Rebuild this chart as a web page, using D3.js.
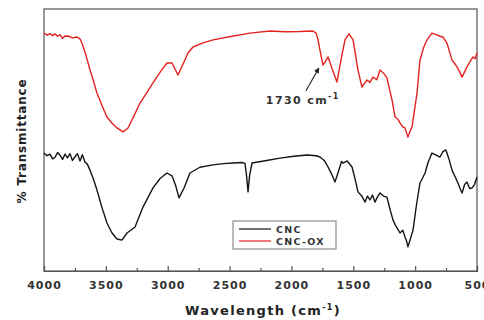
<!DOCTYPE html>
<html>
<head>
<meta charset="utf-8">
<script src="https://cdn.jsdelivr.net/npm/d3@7"></script>
<style>
  html, body { margin: 0; padding: 0; background: #fff; }
  svg { display: block; font-family: "DejaVu Sans", "Liberation Sans", Arial, sans-serif; }
</style>
</head>
<body>
<svg id="chart" width="484" height="320"></svg>
<script>
// FTIR spectra: wavenumber (cm-1) and relative transmittance
const cncWavenumber = [4000, 3975, 3952, 3930, 3911, 3890, 3871, 3850, 3830, 3810, 3790, 3770, 3749, 3730, 3709, 3690, 3669, 3650, 3628, 3600, 3572, 3530, 3491, 3450, 3410, 3370, 3329, 3264, 3200, 3119, 3060, 3006, 2965, 2935, 2909, 2868, 2820, 2740, 2634, 2550, 2472, 2400, 2375, 2362, 2351, 2338, 2319, 2200, 2092, 1980, 1874, 1800, 1769, 1735, 1704, 1675, 1648, 1620, 1595, 1583, 1550, 1510, 1485, 1462, 1430, 1405, 1385, 1365, 1345, 1325, 1305, 1284, 1255, 1228, 1200, 1179, 1160, 1140, 1122, 1100, 1082, 1070, 1058, 1040, 1017, 990, 961, 940, 920, 895, 864, 830, 799, 775, 751, 725, 702, 675, 654, 635, 621, 600, 581, 560, 540, 520, 500];
const cncValues = [45.0, 44.0, 44.6, 42.8, 43.4, 45.2, 44.2, 42.6, 44.6, 43.2, 44.8, 42.2, 43.6, 44.8, 42.0, 44.4, 41.6, 40.8, 38.5, 35.0, 30.9, 24.0, 18.3, 14.5, 12.2, 11.8, 14.5, 16.8, 24.4, 31.7, 35.4, 37.4, 36.3, 32.5, 27.9, 31.7, 37.4, 39.6, 40.5, 41.0, 41.2, 41.4, 41.0, 36.0, 30.2, 36.5, 41.2, 42.2, 43.1, 43.8, 44.3, 44.0, 43.5, 42.2, 39.7, 37.0, 34.0, 38.0, 41.8, 41.2, 42.0, 39.7, 35.0, 30.2, 28.5, 26.3, 28.6, 27.1, 29.0, 26.3, 28.2, 29.8, 28.6, 28.2, 23.0, 19.5, 17.5, 16.0, 14.5, 15.6, 13.0, 11.5, 9.2, 12.0, 15.6, 25.0, 33.6, 35.5, 37.4, 41.5, 45.0, 44.2, 43.5, 45.6, 46.2, 42.5, 38.5, 35.8, 33.6, 31.2, 29.8, 33.0, 34.0, 31.5, 31.7, 33.0, 35.9];

const oxWavenumber = [4000, 3975, 3952, 3930, 3911, 3890, 3870, 3850, 3830, 3800, 3770, 3733, 3710, 3693, 3661, 3628, 3600, 3572, 3530, 3491, 3450, 3410, 3361, 3321, 3270, 3224, 3170, 3119, 3060, 3006, 2965, 2940, 2917, 2876, 2836, 2796, 2720, 2634, 2480, 2335, 2173, 2050, 1931, 1826, 1800, 1785, 1760, 1745, 1725, 1704, 1670, 1632, 1600, 1567, 1535, 1502, 1480, 1462, 1430, 1410, 1389, 1365, 1341, 1310, 1284, 1255, 1228, 1187, 1163, 1140, 1122, 1100, 1082, 1070, 1058, 1040, 1025, 985, 961, 930, 904, 864, 823, 800, 775, 743, 702, 680, 662, 640, 621, 600, 581, 555, 532, 515, 500];
const oxValues = [90.8, 90.0, 90.6, 89.8, 90.5, 89.6, 90.2, 88.8, 89.7, 89.6, 89.0, 89.3, 88.6, 87.0, 82.4, 76.7, 72.5, 67.9, 63.0, 58.8, 56.4, 54.6, 53.1, 54.6, 59.5, 64.1, 68.0, 71.8, 76.0, 79.4, 79.4, 77.0, 74.8, 79.0, 83.2, 85.5, 87.0, 88.2, 89.6, 90.8, 91.6, 91.3, 91.4, 91.6, 90.8, 88.2, 82.0, 78.6, 80.0, 81.7, 77.0, 72.1, 80.5, 88.2, 90.5, 88.2, 82.0, 76.7, 70.2, 71.5, 72.9, 72.0, 74.0, 73.0, 76.7, 75.5, 73.7, 65.3, 58.8, 58.0, 56.5, 55.0, 54.6, 52.8, 51.1, 53.5, 55.0, 67.9, 80.5, 85.5, 88.2, 90.8, 90.1, 89.6, 89.3, 87.0, 80.5, 79.2, 77.9, 76.0, 74.0, 76.0, 77.9, 80.0, 81.7, 81.0, 83.2];

const seriesNames = ["CNC", "CNC-OX"];
const seriesColors = ["#141414", "#e3231f"];
const xTicks = [4000, 3500, 3000, 2500, 2000, 1500, 1000, 500];
const xMinorTicks = [3750, 3250, 2750, 2250, 1750, 1250, 750];
const peakLabel = { wavenumber: 1730, value: 78.6, text: "1730 cm" };

const svg = d3.select("#chart");
const margin = { left: 44, right: 7, top: 9, bottom: 49 };
const W = 484, H = 320;

const x = d3.scaleLinear().domain([4000, 500]).range([margin.left, W - margin.right]);
const y = d3.scaleLinear().domain([0, 100]).range([H - margin.bottom, margin.top]);

// plot frame
svg.append("rect")
  .attr("x", margin.left).attr("y", margin.top)
  .attr("width", W - margin.right - margin.left)
  .attr("height", H - margin.bottom - margin.top)
  .attr("fill", "none").attr("stroke", "#555").attr("stroke-width", 1.2);

// bottom axis with inward ticks
const xAxis = d3.axisBottom(x).tickValues(xTicks).tickSize(-5).tickPadding(10).tickFormat(d3.format("d"));
const gx = svg.append("g").attr("transform", `translate(0,${H - margin.bottom})`).call(xAxis);
gx.select(".domain").attr("stroke", "#555").attr("stroke-width", 1.2);
gx.selectAll(".tick line").attr("stroke", "#555").attr("stroke-width", 1.2);
gx.selectAll(".tick text").attr("fill", "#333").attr("font-size", 11).attr("font-weight", "bold")
  .attr("letter-spacing", 1)
  .attr("font-family", "DejaVu Sans, sans-serif");

const minor = d3.axisBottom(x).tickValues(xMinorTicks).tickSize(-3).tickFormat("");
const gm = svg.append("g").attr("transform", `translate(0,${H - margin.bottom})`).call(minor);
gm.select(".domain").remove();
gm.selectAll(".tick line").attr("stroke", "#555").attr("stroke-width", 1.2);

// spectra
const line = d3.line().x(d => x(d[0])).y(d => y(d[1]));
const spectra = [
  d3.zip(cncWavenumber, cncValues),
  d3.zip(oxWavenumber, oxValues)
];
spectra.forEach((s, i) => {
  svg.append("path").datum(s)
    .attr("d", line)
    .attr("fill", "none")
    .attr("stroke", seriesColors[i])
    .attr("stroke-width", 1.4)
    .attr("stroke-linejoin", "round");
});

// carbonyl peak annotation
const peakX = x(peakLabel.wavenumber);
const peakY = y(peakLabel.value);
svg.append("defs").append("marker")
  .attr("id", "arrow").attr("viewBox", "0 0 10 10")
  .attr("refX", 9).attr("refY", 5)
  .attr("markerWidth", 5).attr("markerHeight", 5)
  .attr("orient", "auto")
  .append("path").attr("d", "M0,0 L10,5 L0,10 z").attr("fill", "#222");
svg.append("line")
  .attr("x1", peakX - 19).attr("y1", peakY + 26)
  .attr("x2", peakX - 6).attr("y2", peakY + 3)
  .attr("stroke", "#222").attr("stroke-width", 1.1)
  .attr("marker-end", "url(#arrow)");
const ann = svg.append("text")
  .attr("x", peakX - 59).attr("y", peakY + 39)
  .attr("font-size", 11).attr("font-weight", "bold").attr("fill", "#333")
  .attr("letter-spacing", 1.4);
ann.append("tspan").text(peakLabel.text);
ann.append("tspan").attr("dy", -5).attr("font-size", 8).text("-1");

// legend
const lg = svg.append("g").attr("transform", "translate(233,221)");
lg.append("rect").attr("width", 103).attr("height", 28)
  .attr("fill", "#fff").attr("stroke", "#777").attr("stroke-width", 1);
seriesNames.forEach((name, i) => {
  const ly = 8 + i * 12;
  lg.append("line").attr("x1", 6).attr("x2", 38).attr("y1", ly).attr("y2", ly)
    .attr("stroke", seriesColors[i]).attr("stroke-width", 1.2);
  lg.append("text").attr("x", 43).attr("y", ly + 3.5)
    .attr("font-size", 9.5).attr("font-weight", "bold").attr("fill", "#333")
    .attr("letter-spacing", 1.3).text(name);
});

// axis titles
const xt = svg.append("text")
  .attr("x", 263).attr("y", 315)
  .attr("text-anchor", "middle")
  .attr("font-size", 13).attr("font-weight", "bold").attr("fill", "#222")
  .attr("letter-spacing", 1.3);
xt.append("tspan").text("Wavelength (cm");
xt.append("tspan").attr("dy", -5).attr("font-size", 8).text("-1");
xt.append("tspan").attr("dy", 5).text(")");

svg.append("text")
  .attr("transform", "translate(26,141) rotate(-90)")
  .attr("text-anchor", "middle")
  .attr("font-size", 12).attr("font-weight", "bold").attr("fill", "#222")
  .attr("letter-spacing", 0.8)
  .text("% Transmittance");
</script>
</body>
</html>
